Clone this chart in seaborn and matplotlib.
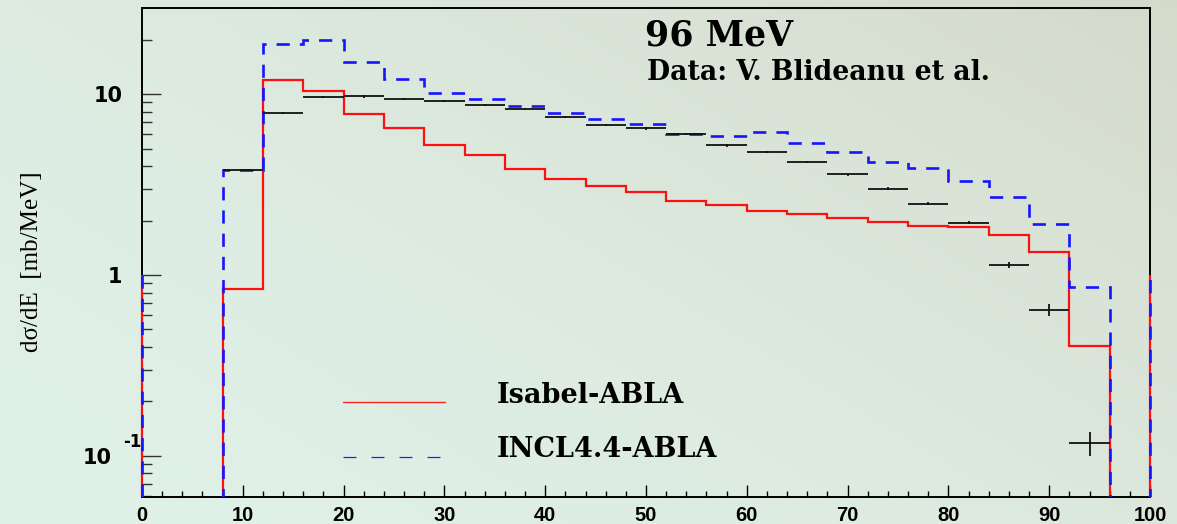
import numpy as np
import matplotlib
matplotlib.use("Agg")
import matplotlib.pyplot as plt
import seaborn as sns
from matplotlib.lines import Line2D
from matplotlib.transforms import Bbox, TransformedBbox
from matplotlib import font_manager as fm
from matplotlib.ticker import FixedLocator, FixedFormatter, LogLocator, MultipleLocator, NullFormatter

# ---------------- data ----------------
bin_edges = np.arange(0, 101, 4)
isabel_abla = [0, 0, 0.84, 11.9, 10.4, 7.8, 6.5, 5.2, 4.6, 3.84, 3.4, 3.1, 2.88,
               2.57, 2.43, 2.26, 2.17, 2.07, 1.97, 1.87, 1.85, 1.66, 1.34, 0.405, 0]
incl_abla = [0, 0, 3.8, 18.9, 19.9, 15.1, 12.1, 10.2, 9.4, 8.6, 7.85, 7.3, 6.8,
             6.0, 5.9, 6.2, 5.37, 4.8, 4.2, 3.9, 3.3, 2.7, 1.91, 0.86, 0]
data_energy = [10, 14, 18, 22, 26, 30, 34, 38, 42, 46, 50, 54, 58, 62, 66, 70,
               74, 78, 82, 86, 90, 94]
data_xs = [3.8, 7.85, 9.6, 9.7, 9.4, 9.15, 8.66, 8.26, 7.5, 6.77, 6.46, 6.0,
           5.2, 4.8, 4.2, 3.6, 3.0, 2.48, 1.95, 1.14, 0.64, 0.118]
data_err = [0.06, 0.12, 0.14, 0.14, 0.13, 0.13, 0.12, 0.11, 0.10, 0.09, 0.09,
            0.08, 0.07, 0.07, 0.06, 0.06, 0.05, 0.05, 0.04, 0.04, 0.05, 0.018]
data_half_bin = 2.0
x_ticks = [0, 10, 20, 30, 40, 50, 60, 70, 80, 90, 100]
x_ticklabels = ["0", "10", "20", "30", "40", "50", "60", "70", "80", "90", "100"]
y_ticks = [0.1, 1, 10]
y_ticklabels = ["10", "1", "10"]
y_exponent = "-1"
labels = ["Isabel-ABLA", "INCL4.4-ABLA"]
title = "96 MeV"
subtitle = "Data: V. Blideanu et al."
ylabel = "dσ/dE  [mb/MeV]"

# ---------------- style ----------------
sns.set_theme(style="ticks")
plt.rcParams["font.family"] = ["DejaVu Sans"]
for key in ("text.color", "axes.labelcolor", "xtick.color", "ytick.color", "axes.edgecolor"):
    plt.rcParams[key] = "black"


def have(name):
    try:
        fm.findfont(fm.FontProperties(family=name), fallback_to_default=False)
        return True
    except Exception:
        return False


serif = "Liberation Serif" if have("Liberation Serif") else "DejaVu Serif"
heading = "DejaVu Serif"
sans = "Liberation Sans" if have("Liberation Sans") else "DejaVu Sans"

W, H = 1177, 524
fig = plt.figure(figsize=(W / 100, H / 100), dpi=100)

# background gradient
bg = fig.add_axes([0, 0, 1, 1], zorder=-10)
u = np.linspace(0, 1, 300)[None, :]
v = np.linspace(1, 0, 150)[:, None]
t = np.clip((0.75 * u + 0.55 * v) / 1.3, 0, 1) ** 1.6
c0 = np.array([0.878, 0.945, 0.910])
c1 = np.array([0.835, 0.855, 0.795])
img = c0[None, None, :] * (1 - t[..., None]) + c1[None, None, :] * t[..., None]
bg.imshow(img, aspect="auto", extent=[0, 1, 0, 1], interpolation="bilinear")
bg.axis("off")

ax = fig.add_axes([142 / W, 1 - 497 / H, (1150 - 142) / W, (497 - 8) / H])
ax.set_facecolor("none")
ax.set_yscale("log", nonpositive="clip")
ax.set_xlim(0, 100)
ax.set_ylim(0.0593, 29.9)

clip = TransformedBbox(Bbox([[-0.003, 0], [1.003, 1]]), ax.transAxes)
s1 = ax.stairs(isabel_abla, bin_edges, baseline=1, color="#ff1010", lw=1.6, zorder=3)
s2 = ax.stairs(incl_abla, bin_edges, baseline=1, color="#1515ff", lw=1.9,
               linestyle=(0, (5.0, 3.8)), zorder=3.5)
for s in (s1, s2):
    s.set_clip_box(clip)

ax.errorbar(data_energy, data_xs, xerr=data_half_bin, yerr=data_err, fmt="none",
            ecolor="#111111", elinewidth=1.3, capsize=0, zorder=4)

# ticks
ax.xaxis.set_major_locator(FixedLocator(x_ticks))
ax.xaxis.set_major_formatter(FixedFormatter(x_ticklabels))
ax.xaxis.set_minor_locator(MultipleLocator(2))
ax.yaxis.set_major_locator(FixedLocator(y_ticks))
ax.yaxis.set_major_formatter(FixedFormatter(y_ticklabels))
ax.yaxis.set_minor_locator(LogLocator(base=10, subs=np.arange(2, 10)))
ax.yaxis.set_minor_formatter(NullFormatter())
ax.tick_params(axis="x", which="major", direction="in", length=8.6, width=1.0,
               color="black", labelcolor="black", pad=6.5, top=False, labelsize=14.5)
ax.tick_params(axis="x", which="minor", direction="in", length=4.3, width=1.0,
               color="black", top=False)
ax.tick_params(axis="y", which="major", direction="in", length=13.5, width=1.0,
               color="#333333", labelcolor="black", pad=14, right=False, labelsize=15)
ax.tick_params(axis="y", which="minor", direction="in", length=7.2, width=1.0,
               color="#333333", right=False)
for lab in ax.get_xticklabels():
    lab.set_fontfamily(sans)
    lab.set_fontweight("bold")
for lab in ax.get_yticklabels():
    lab.set_fontweight("bold")
ax.yaxis.get_major_ticks()[0].set_pad(22)
ax.annotate(y_exponent, xy=(0, y_ticks[0]), xycoords=("axes fraction", "data"),
            xytext=(-1, 14), textcoords="offset pixels", ha="right", va="center",
            fontsize=12, fontweight="bold", color="black")

for sp in ax.spines.values():
    sp.set_color("black")
    sp.set_linewidth(1.4)
    sp.set_visible(True)

# texts
fig.text(645 / W, 1 - 45 / H, title, family=heading, weight="bold", size=25,
         va="baseline", ha="left", color="black")
fig.text(647 / W, 1 - 80 / H, subtitle, family=heading, weight="bold", size=19.2,
         va="baseline", ha="left", color="black")
fig.text(32 / W, 1 - 262 / H, ylabel, family=serif, size=18, rotation=90,
         ha="center", va="center", color="black")

# legend
fig.add_artist(Line2D([343 / W, 445 / W], [1 - 402 / H] * 2, color="#ff2020", lw=1.0))
fig.add_artist(Line2D([343 / W, 443 / W], [1 - 457 / H] * 2, color="#2020ff", lw=0.9,
                      linestyle=(0, (10.4, 12.0))))
fig.text(497 / W, 1 - 403 / H, labels[0], family=heading, weight="bold", size=19.5,
         va="baseline", ha="left", color="black")
fig.text(497 / W, 1 - 457 / H, labels[1], family=heading, weight="bold", size=19.5,
         va="baseline", ha="left", color="black")

fig.savefig("out.png", dpi=100)
